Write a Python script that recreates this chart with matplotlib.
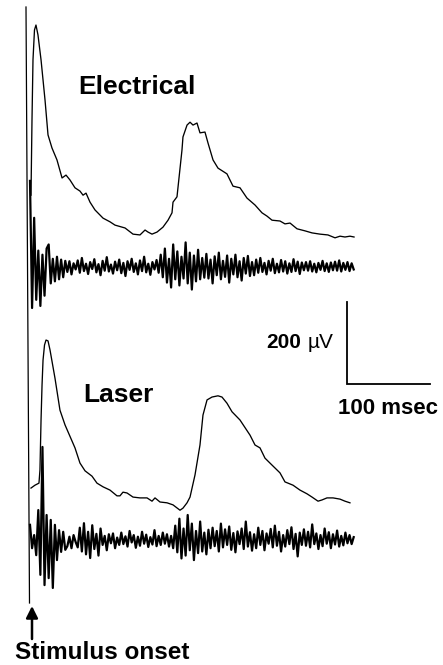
import numpy as np
import matplotlib
matplotlib.use("Agg")
import matplotlib.pyplot as plt

# ---------------- data (time in ms, amplitude in microvolts) ----------------
elec_avg_t = [1.2, 2.4, 3.6, 5.4, 7.2, 9.6, 13.3, 18.1, 21.7, 26.5, 32.5, 38.6, 43.4, 48.2,
              54.2, 60.2, 63.9, 67.5, 72.3, 78.3, 88.0, 96.4, 102.4, 114.5, 124.1, 132.5,
              138.6, 142.2, 147.0, 153.0, 160.2, 166.3, 171.1, 172.3, 177.1, 183.1, 184.3,
              189.2, 192.8, 196.4, 201.2, 204.8, 210.8, 214.5, 220.5, 226.5, 237.3, 244.6,
              253.0, 261.4, 271.1, 279.5, 285.5, 291.6, 301.2, 307.2, 313.3, 321.7, 331.3,
              339.8, 349.4, 359.0, 367.5, 373.5, 379.5, 385.5, 390.4]
elec_avg_v = [102, 285, 432, 505, 517, 493, 432, 334, 249, 217, 188, 144, 151, 139,
              120, 112, 102, 107, 85, 66, 46, 37, 29, 22, 7, 5,
              17, 12, 7, 12, 24, 41, 59, 85, 98, 212, 244,
              273, 280, 273, 278, 254, 256, 229, 188, 168, 154, 124,
              120, 95, 78, 59, 51, 41, 39, 32, 34, 20, 15,
              10, 7, 5, -2, 2, 0, 2, 0]

laser_avg_t = [1.2, 6.0, 10.8, 12.0, 13.3, 14.5, 15.7, 17.5, 19.3, 21.7, 24.1, 30.1, 36.1,
               42.2, 54.2, 60.2, 66.3, 74.7, 80.7, 88.0, 96.4, 104.8, 108.4, 112.0, 116.9,
               124.1, 132.5, 141.0, 147.0, 150.6, 156.6, 165.1, 172.3, 180.7, 184.3, 189.2,
               192.8, 198.8, 204.8, 208.4, 213.3, 219.3, 226.5, 231.3, 237.3, 243.4, 253.0,
               265.1, 271.1, 277.1, 283.1, 291.6, 301.2, 307.2, 316.9, 325.3, 333.7, 339.8,
               347.0, 351.8, 357.8, 365.1, 373.5, 379.5, 385.5]
laser_avg_v = [34, 41, 46, 78, 200, 285, 346, 383, 395, 393, 371, 302, 224,
               188, 132, 95, 76, 63, 46, 37, 29, 15, 15, 24, 22,
               12, 10, 10, 2, 10, 0, -2, -7, -20, -15, -2,
               12, 66, 139, 212, 249, 256, 259, 256, 241, 220, 200,
               163, 139, 132, 107, 90, 71, 49, 41, 29, 20, 12,
               2, 5, 10, 10, 7, 2, -2]

noise_t0, noise_dt = 0.0, 2.5
elec_raw_v = ([210, -100, 120, -80, 40, -95, 30, -70, 45, 55, -40, 20, -35, 25, -30, 18, -25, 15]
              + [-12, 14, -18, 9, -6, 16, -14, 22, -10, 8, -17, 12, -5, 19, -13, 7, -20, 15, -9, 24,
                 -11, 6, -16, 13, -8, 18, -15, 10, -22, 14, -7, 20, -12, 9, -18, 16, -10, 25, -13, 8,
                 -19, 12, -6, 17, -14]
              + [30, -25, 45, -38, 20, -50, 55, -30, 38, -45, 25, -28, 60, -40, 35, -55, 28, -35, 42,
                 -30, 22, -26]
              + [32, -28, 18, -40, 26, -20, 35, -30, 15, -24, 28, -38, 20, -18, 30, -25, 14, -33, 22,
                 -16, 27, -22, 12, -20]
              + [18, -14, 22, -12, 10, -18, 15, -9, 20, -15, 8, -13, 17, -11, 14, -16, 9, -12, 19,
                 -10, 13, -17, 11, -8]
              + [12, -9, 14, -11, 8, -13, 10, -7, 15, -10, 9, -12, 11, -8, 13, -9, 16, -11, 10, -7,
                 12, -10, 9, -6])
laser_raw_v = ([37, -20, 12, -37, 73, -85, 227, -110, 61, -93, 49, -117, 37, -49, 24, -29, 20, -24]
               + [-15, 8, -20, 12, -5, -18, 30, -28, 41, -35, 20, -44, 36, -22, 15, -38, 28, -12, 10,
                  -25, 14, -8, 16, -20, 6, -12, 18, -10, 9, -16, 22, -6, 12, -19, 8, -14, 20, -9, 13,
                  -17, 7, -11, 24, -15, 10]
               + [-12, 18, -9, 14, -16, 10, -20, 35, -30, 52, -45, 28, -38, 61, -25, 40, -49, 22, -32,
                  45, -28, 18]
               + [-35, 25, -20, 30, -15, 22, -28, 40, -18, 26, -12, 33, -24, 17, -30, 21, -10, 28, -22,
                  45, -16, 19, -26, 14]
               + [-20, 30, -12, 22, -25, 16, -9, 27, -18, 35, -14, 20, -28, 12, -16, 24, -10, 31, -22,
                  15, -40, 18, -12, 26]
               + [-14, 20, -18, 38, -10, 16, -22, 12, -15, 28, -9, 19, -20, 14, -11, 23, -16, 10, -13,
                  18, -8, 12, -10, 7])

labels = ["Electrical", "Laser"]
scale_uv = 200
scale_ms = 100

# ---------------- layout ----------------
PX_PER_MS = 0.83
PX_PER_UV = 0.41
W, H = 443, 665
X0 = 30  # pixel column of stimulus onset

def tx(px):
    return (px - X0) / PX_PER_MS

def vy(py):
    return (H - py) / PX_PER_UV

off_elec_avg = vy(237)
off_elec_raw = vy(267)
off_laser_avg = vy(502)
off_laser_raw = vy(540)

fig = plt.figure(figsize=(W / 100, H / 100), dpi=100)
ax = fig.add_axes([0, 0, 1, 1])
ax.set_xlim(tx(0), tx(W))
ax.set_ylim(vy(H), vy(0))
ax.axis("off")

k = "black"
elec_raw_t = noise_t0 + noise_dt * np.arange(len(elec_raw_v))
laser_raw_t = noise_t0 + noise_dt * np.arange(len(laser_raw_v))

ax.plot(elec_avg_t, np.array(elec_avg_v) + off_elec_avg, color=k, lw=0.95)
ax.plot(laser_avg_t, np.array(laser_avg_v) + off_laser_avg, color=k, lw=0.95)
ax.plot(elec_raw_t, np.array(elec_raw_v) + off_elec_raw, color=k, lw=1.6)
ax.plot(laser_raw_t, np.array(laser_raw_v) + off_laser_raw, color=k, lw=1.6)

# stimulus artifact line
ax.plot([tx(26), tx(29.5)], [vy(7), vy(603)], color=k, lw=0.9)

# scale bar
sb_t, sb_v = tx(347), vy(384)
ax.plot([sb_t, sb_t, sb_t + scale_ms], [sb_v + scale_uv, sb_v, sb_v], color=k, lw=1.3,
        solid_joinstyle="miter")

font = "Liberation Sans"
ax.text(tx(137), vy(87), labels[0], ha="center", va="center", fontsize=19,
        fontweight="bold", family=font)
ax.text(tx(118), vy(395), labels[1], ha="center", va="center", fontsize=19,
        fontweight="bold", family=font)
ax.text(tx(301), vy(342), "200", ha="right", va="center", fontsize=15,
        fontweight="bold", family=font)
ax.text(tx(308), vy(342), "\u00b5V", ha="left", va="center", fontsize=15,
        family=font)
ax.text(tx(388), vy(408), f"{scale_ms} msec", ha="center", va="center", fontsize=16,
        fontweight="bold", family=font)
ax.text(tx(102), vy(659), "Stimulus onset", ha="center", va="baseline", fontsize=17.5,
        fontweight="bold", family=font)

# arrow
ax.annotate("", xy=(tx(32), vy(606)), xytext=(tx(32), vy(639)),
            arrowprops=dict(arrowstyle="-|>,head_length=0.7,head_width=0.35",
                            color=k, lw=1.8, shrinkA=0, shrinkB=0))

fig.savefig("out.png", dpi=100, facecolor="white")
